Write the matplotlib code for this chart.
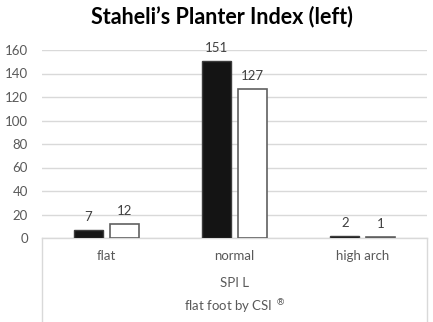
import matplotlib
matplotlib.use("Agg")
import matplotlib.pyplot as plt
import numpy as np
from matplotlib.lines import Line2D

categories = ["flat", "normal", "high arch"]
series_a = [7, 151, 2]
series_b = [12, 127, 1]
yticks = [0, 20, 40, 60, 80, 100, 120, 140, 160]

plt.rcParams['font.family'] = ['Lato', 'DejaVu Sans']

W, H = 433, 322
fig = plt.figure(figsize=(W / 100, H / 100), dpi=100)
ax = fig.add_axes([42 / W, (H - 238) / H, (427 - 42) / W, (238 - 50) / H])

x = np.arange(len(categories))
bw = 0.225
off = 0.14
gray = '#595959'

b1 = ax.bar(x - off, series_a, width=bw, color='#141414', edgecolor='#3c3c3c', linewidth=1, zorder=3)
b2 = ax.bar(x + off, series_b, width=bw, color='white', edgecolor='#606060', linewidth=1.2, zorder=3)

for bars, vals in ((b1, series_a), (b2, series_b)):
    for r, v in zip(bars, vals):
        ax.annotate(str(v), (r.get_x() + r.get_width() / 2, r.get_height()),
                    xytext=(0, 5), textcoords='offset points', ha='center', va='bottom',
                    fontsize=9.5, color='#404040', annotation_clip=False)

ax.set_xlim(-0.5, len(categories) - 0.5)
ax.set_ylim(0, 160)
ax.set_yticks(yticks)
ax.set_yticklabels([str(t) for t in yticks], fontsize=9.5, color=gray)
ax.set_xticks(x)
ax.set_xticklabels(categories, fontsize=9.5, color=gray)
ax.tick_params(axis='y', length=0, pad=10)
ax.tick_params(axis='x', length=0, pad=9)
ax.yaxis.grid(True, color='#d9d9d9', linewidth=1, zorder=0)
ax.set_axisbelow(True)
for s in ax.spines.values():
    s.set_visible(False)

# bottom axis box
lc = '#d9d9d9'
ax.add_line(Line2D([0, 1], [0, 0], transform=ax.transAxes, color=lc, lw=1, clip_on=False, zorder=1))
ax.add_line(Line2D([0, 0], [0, -0.6], transform=ax.transAxes, color=lc, lw=1, clip_on=False))
ax.add_line(Line2D([1, 1], [0, -0.6], transform=ax.transAxes, color=lc, lw=1, clip_on=False))

ax.text(0.5, -(283 - 238) / 188, "SPI L", transform=ax.transAxes, ha='center', va='center',
        fontsize=9.5, color=gray)
ax.text(0.5, -(307 - 238) / 188, "flat foot by CSI $^{®}$", transform=ax.transAxes, ha='center', va='center',
        fontsize=9.5, color=gray)

fig.text(222 / W, 1 - 17 / H, "Staheli’s Planter Index (left)", ha='center', va='center',
         fontsize=15.5, fontweight='bold', color='black')

fig.savefig("out.png", dpi=100)
